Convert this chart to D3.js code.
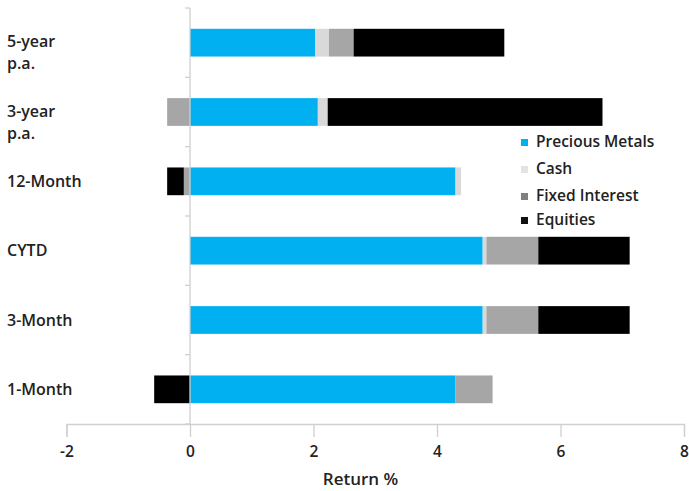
<!DOCTYPE html>
<html><head><meta charset="utf-8">
<script src="https://cdn.jsdelivr.net/npm/d3@7"></script>
<style>body{margin:0;background:#fff;} text{font-family:"Open Sans",sans-serif;}</style>
</head><body><svg id="c" width="689" height="491"></svg>
<script>
const categories = ["5-year p.a.", "3-year p.a.", "12-Month", "CYTD", "3-Month", "1-Month"];
const seriesNames = ["Precious Metals", "Cash", "Fixed Interest", "Equities"];
const preciousMetals = [2.03, 2.07, 4.30, 4.74, 4.74, 4.30];
const cash = [0.22, 0.16, 0.09, 0.06, 0.06, 0.0];
const fixedInterest = [0.40, -0.37, -0.10, 0.84, 0.84, 0.60];
const equities = [2.44, 4.45, -0.27, 1.48, 1.48, -0.58];
const xTicks = [-2, 0, 2, 4, 6, 8];
const colors = ["#00B0F0", "#D9D9D9", "#A6A6A6", "#000000"];
const legendColors = ["#00B0F0", "#E3E3E3", "#808080", "#111111"];

const rows = categories.map((c, i) => ({cat: c, "Precious Metals": preciousMetals[i], "Cash": cash[i], "Fixed Interest": fixedInterest[i], "Equities": equities[i]}));
const stack = d3.stack().keys(seriesNames).offset(d3.stackOffsetDiverging)(rows);

const svg = d3.select("#c");
const axisY = 424;
const x = d3.scaleLinear().domain([-2, 8]).range([66.5, 684]);
const y = d3.scaleBand().domain(categories).range([8, axisY]).paddingInner(0.6).paddingOuter(0.3);
const bandStep = y.step();

// bars
svg.append("g").selectAll("g").data(stack).join("g")
  .attr("fill", (d, i) => colors[i])
  .selectAll("rect").data(d => d).join("rect")
  .attr("x", d => x(Math.min(d[0], d[1])))
  .attr("width", d => Math.abs(x(d[1]) - x(d[0])))
  .attr("y", d => y(d.data.cat))
  .attr("height", y.bandwidth());

// vertical axis line at zero
const axisColor = "#D0D0D0";
svg.append("line").attr("x1", x(0)).attr("x2", x(0)).attr("y1", 8).attr("y2", axisY)
  .attr("stroke", axisColor).attr("stroke-width", 1.3);
// category boundary ticks
d3.range(categories.length + 1).forEach(i => {
  const yy = 8 + i * bandStep;
  svg.append("line").attr("x1", x(0) - 5).attr("x2", x(0)).attr("y1", yy).attr("y2", yy)
    .attr("stroke", axisColor).attr("stroke-width", 1.3);
});

// x axis
const xAxis = svg.append("g").attr("transform", `translate(0,${axisY})`)
  .call(d3.axisBottom(x).tickValues(xTicks).tickSize(13).tickPadding(9).tickFormat(d3.format("d")));
xAxis.select(".domain").attr("stroke", axisColor).attr("stroke-width", 1.3);
xAxis.selectAll(".tick line").attr("stroke", axisColor).attr("stroke-width", 1.3);
xAxis.selectAll(".tick text").attr("font-size", 15.5).attr("font-weight", 600).attr("fill", "#222")
  .attr("font-family", "'Open Sans', sans-serif").text(d => d < 0 ? "-" + Math.abs(d) : d);

svg.append("text").attr("x", 360.5).attr("y", 485).attr("text-anchor", "middle")
  .attr("font-size", 17).attr("font-weight", 600).attr("fill", "#222").text("Return %");

// category labels
categories.forEach(c => {
  const cy = y(c) + y.bandwidth() / 2;
  const parts = c.endsWith(" p.a.") ? [c.replace(" p.a.", ""), "p.a."] : [c];
  const y0 = parts.length > 1 ? cy + 4.5 : cy + 5.5;
  parts.forEach((p, k) => svg.append("text").attr("x", 7).attr("y", y0 + k * 22)
    .attr("font-size", 16).attr("font-weight", 600).attr("fill", "#222").text(p));
});

// legend
const legY = [141, 168, 195, 219];
seriesNames.forEach((s, i) => {
  svg.append("rect").attr("x", 521).attr("y", legY[i] - 2).attr("width", 7).attr("height", 7).attr("fill", legendColors[i]);
  svg.append("text").attr("x", 536).attr("y", legY[i] + 5.5).attr("font-size", 15.5).attr("font-weight", 600)
    .attr("fill", "#222").text(s);
});
</script></body></html>
